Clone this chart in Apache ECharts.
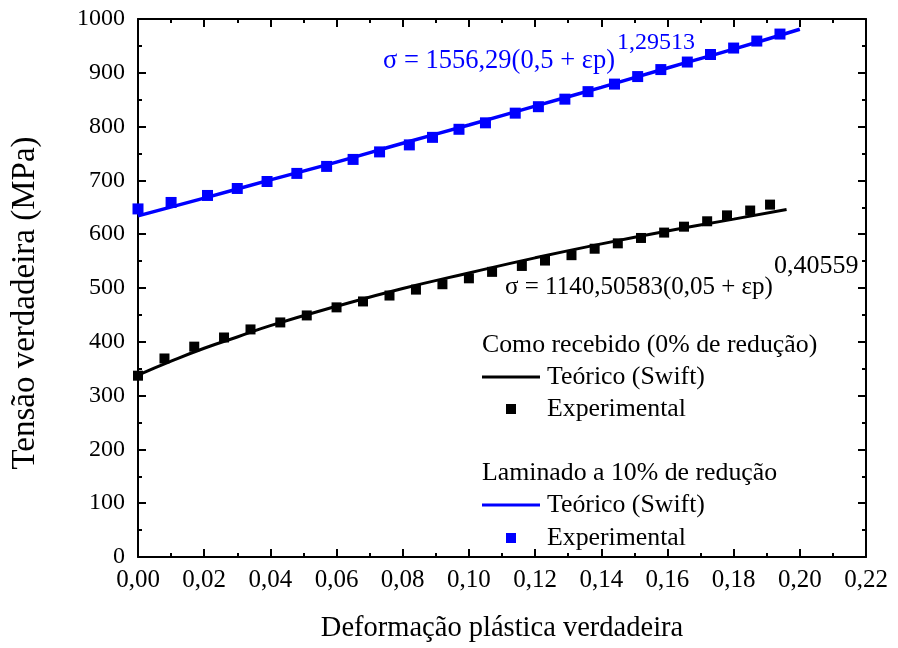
<!DOCTYPE html>
<html>
<head>
<meta charset="utf-8">
<script src="https://cdn.jsdelivr.net/npm/echarts@6/dist/echarts.min.js"></script>
<style>
  html, body { margin: 0; padding: 0; background: #fff; }
  #chart { width: 898px; height: 648px; }
</style>
</head>
<body>
<div id="chart"></div>
<script>
// laminado a 10% - pontos experimentais
var blueStrain = [0.000, 0.010, 0.021, 0.030, 0.039, 0.048, 0.057, 0.065, 0.073, 0.082, 0.089, 0.097, 0.105,
  0.114, 0.121, 0.129, 0.136, 0.144, 0.151, 0.158, 0.166, 0.173, 0.180, 0.187, 0.194]
var blueStress = [647, 659, 672, 685, 698, 713, 726, 739, 753, 766, 780, 795, 807,
  825, 837, 851, 865, 879, 893, 906, 920, 934, 946, 959, 972]

// curva teorica (Swift) - laminado
var blueLineStrain = [0, 0.02, 0.04, 0.06, 0.08, 0.10, 0.12, 0.14, 0.16, 0.18, 0.20]
var blueLineStress = [634, 667, 701, 734, 769, 803, 838, 873, 909, 944, 981]

// como recebido - pontos experimentais
var blackStrain = [0.000, 0.008, 0.017, 0.026, 0.034, 0.043, 0.051, 0.060, 0.068, 0.076, 0.084, 0.092, 0.100,
  0.107, 0.116, 0.123, 0.131, 0.138, 0.145, 0.152, 0.159, 0.165, 0.172, 0.178, 0.185, 0.191]
var blackStress = [337, 369, 391, 408, 423, 436, 449, 464, 475, 486, 497, 507, 518,
  530, 541, 551, 561, 573, 583, 593, 603, 614, 624, 635, 644, 655]

// curva teorica (Swift) - como recebido
var blackLineStrain = [0, 0.01, 0.02, 0.03, 0.04, 0.06, 0.08, 0.10, 0.12, 0.14, 0.16, 0.18, 0.196]
var blackLineStress = [338, 364, 388, 409, 430, 466, 499, 528, 556, 582, 606, 628, 646]

var xTitle = 'Deformação plástica verdadeira'
var yTitle = 'Tensão verdadeira (MPa)'

function pairs (xs, ys) {
  return xs.map(function (x, i) { return [x, ys[i]] })
}

var FONT = '"Liberation Serif", "Times New Roman", serif'
var BLUE = '#0000ff'

function fmtX (v) {
  return v.toFixed(2).replace('.', ',')
}

var axisLine = { show: true, onZero: false, lineStyle: { color: '#000', width: 2 } }
var tick = { show: true, inside: true, length: 8, lineStyle: { color: '#000', width: 2 } }
var minor = { show: true, splitNumber: 2, length: 4, lineStyle: { color: '#000', width: 2 } }

var chart = echarts.init(document.getElementById('chart'))

var option = {
  animation: false,
  backgroundColor: '#fff',
  grid: { left: 138, right: 32, top: 19, bottom: 89 },
  xAxis: [
    {
      type: 'value',
      min: 0,
      max: 0.22,
      interval: 0.02,
      position: 'bottom',
      axisLine: axisLine,
      axisTick: tick,
      minorTick: minor,
      splitLine: { show: false },
      axisLabel: { formatter: fmtX, color: '#000', fontFamily: FONT, fontSize: 25, margin: 11 },
      name: xTitle,
      nameLocation: 'middle',
      nameGap: 57,
      nameTextStyle: { color: '#000', fontFamily: FONT, fontSize: 28.5 }
    },
    {
      type: 'value',
      min: 0,
      max: 0.22,
      interval: 0.02,
      position: 'top',
      axisLine: axisLine,
      axisTick: tick,
      minorTick: minor,
      splitLine: { show: false },
      axisLabel: { show: false }
    }
  ],
  yAxis: [
    {
      type: 'value',
      min: 0,
      max: 1000,
      interval: 100,
      position: 'left',
      axisLine: axisLine,
      axisTick: tick,
      minorTick: minor,
      splitLine: { show: false },
      axisLabel: { formatter: function (v) { return String(v) }, color: '#000', fontFamily: FONT, fontSize: 24, margin: 13 },
      name: yTitle,
      nameLocation: 'middle',
      nameGap: 96,
      nameTextStyle: { color: '#000', fontFamily: FONT, fontSize: 33, padding: [0, 30, 0, 0] }
    },
    {
      type: 'value',
      min: 0,
      max: 1000,
      interval: 100,
      position: 'right',
      axisLine: axisLine,
      axisTick: tick,
      minorTick: minor,
      splitLine: { show: false },
      axisLabel: { show: false }
    }
  ],
  series: [
    {
      name: 'Teórico (Swift) - como recebido',
      type: 'line',
      data: pairs(blackLineStrain, blackLineStress),
      smooth: true,
      symbol: 'none',
      lineStyle: { color: '#000', width: 3 },
      z: 3
    },
    {
      name: 'Experimental - como recebido',
      type: 'scatter',
      data: pairs(blackStrain, blackStress),
      symbol: 'rect',
      symbolSize: 10,
      itemStyle: { color: '#000', opacity: 1 },
      z: 4
    },
    {
      name: 'Teórico (Swift) - laminado',
      type: 'line',
      data: pairs(blueLineStrain, blueLineStress),
      smooth: true,
      symbol: 'none',
      lineStyle: { color: BLUE, width: 3.5 },
      z: 3
    },
    {
      name: 'Experimental - laminado',
      type: 'scatter',
      data: pairs(blueStrain, blueStress),
      symbol: 'rect',
      symbolSize: 11,
      itemStyle: { color: BLUE, opacity: 1 },
      z: 4
    }
  ],
  graphic: [
    // equacoes
    { type: 'text', x: 383, y: 61, style: { text: 'σ = 1556,29(0,5 + εp)', font: '26.5px ' + FONT, fill: BLUE, verticalAlign: 'middle' } },
    { type: 'text', x: 617, y: 43, style: { text: '1,29513', font: '24px ' + FONT, fill: BLUE, verticalAlign: 'middle' } },
    { type: 'text', x: 505, y: 287, style: { text: 'σ = 1140,50583(0,05 + εp)', font: '25px ' + FONT, fill: '#000', verticalAlign: 'middle' } },
    { type: 'text', x: 774, y: 266, style: { text: '0,40559', font: '26px ' + FONT, fill: '#000', verticalAlign: 'middle' } },
    // legenda
    { type: 'text', x: 482, y: 345, style: { text: 'Como recebido (0% de redução)', font: '25.8px ' + FONT, fill: '#000', verticalAlign: 'middle' } },
    { type: 'line', shape: { x1: 482, y1: 377, x2: 540, y2: 377 }, style: { stroke: '#000', lineWidth: 3 } },
    { type: 'text', x: 547, y: 377, style: { text: 'Teórico (Swift)', font: '25.8px ' + FONT, fill: '#000', verticalAlign: 'middle' } },
    { type: 'rect', shape: { x: 506, y: 404, width: 10, height: 10 }, style: { fill: '#000' } },
    { type: 'text', x: 547, y: 409, style: { text: 'Experimental', font: '25.8px ' + FONT, fill: '#000', verticalAlign: 'middle' } },
    { type: 'text', x: 482, y: 473, style: { text: 'Laminado a 10% de redução', font: '25.8px ' + FONT, fill: '#000', verticalAlign: 'middle' } },
    { type: 'line', shape: { x1: 482, y1: 505, x2: 540, y2: 505 }, style: { stroke: BLUE, lineWidth: 3 } },
    { type: 'text', x: 547, y: 505, style: { text: 'Teórico (Swift)', font: '25.8px ' + FONT, fill: '#000', verticalAlign: 'middle' } },
    { type: 'rect', shape: { x: 506, y: 533, width: 10, height: 10 }, style: { fill: BLUE } },
    { type: 'text', x: 547, y: 538, style: { text: 'Experimental', font: '25.8px ' + FONT, fill: '#000', verticalAlign: 'middle' } }
  ]
}

chart.setOption(option)
</script>
</body>
</html>
